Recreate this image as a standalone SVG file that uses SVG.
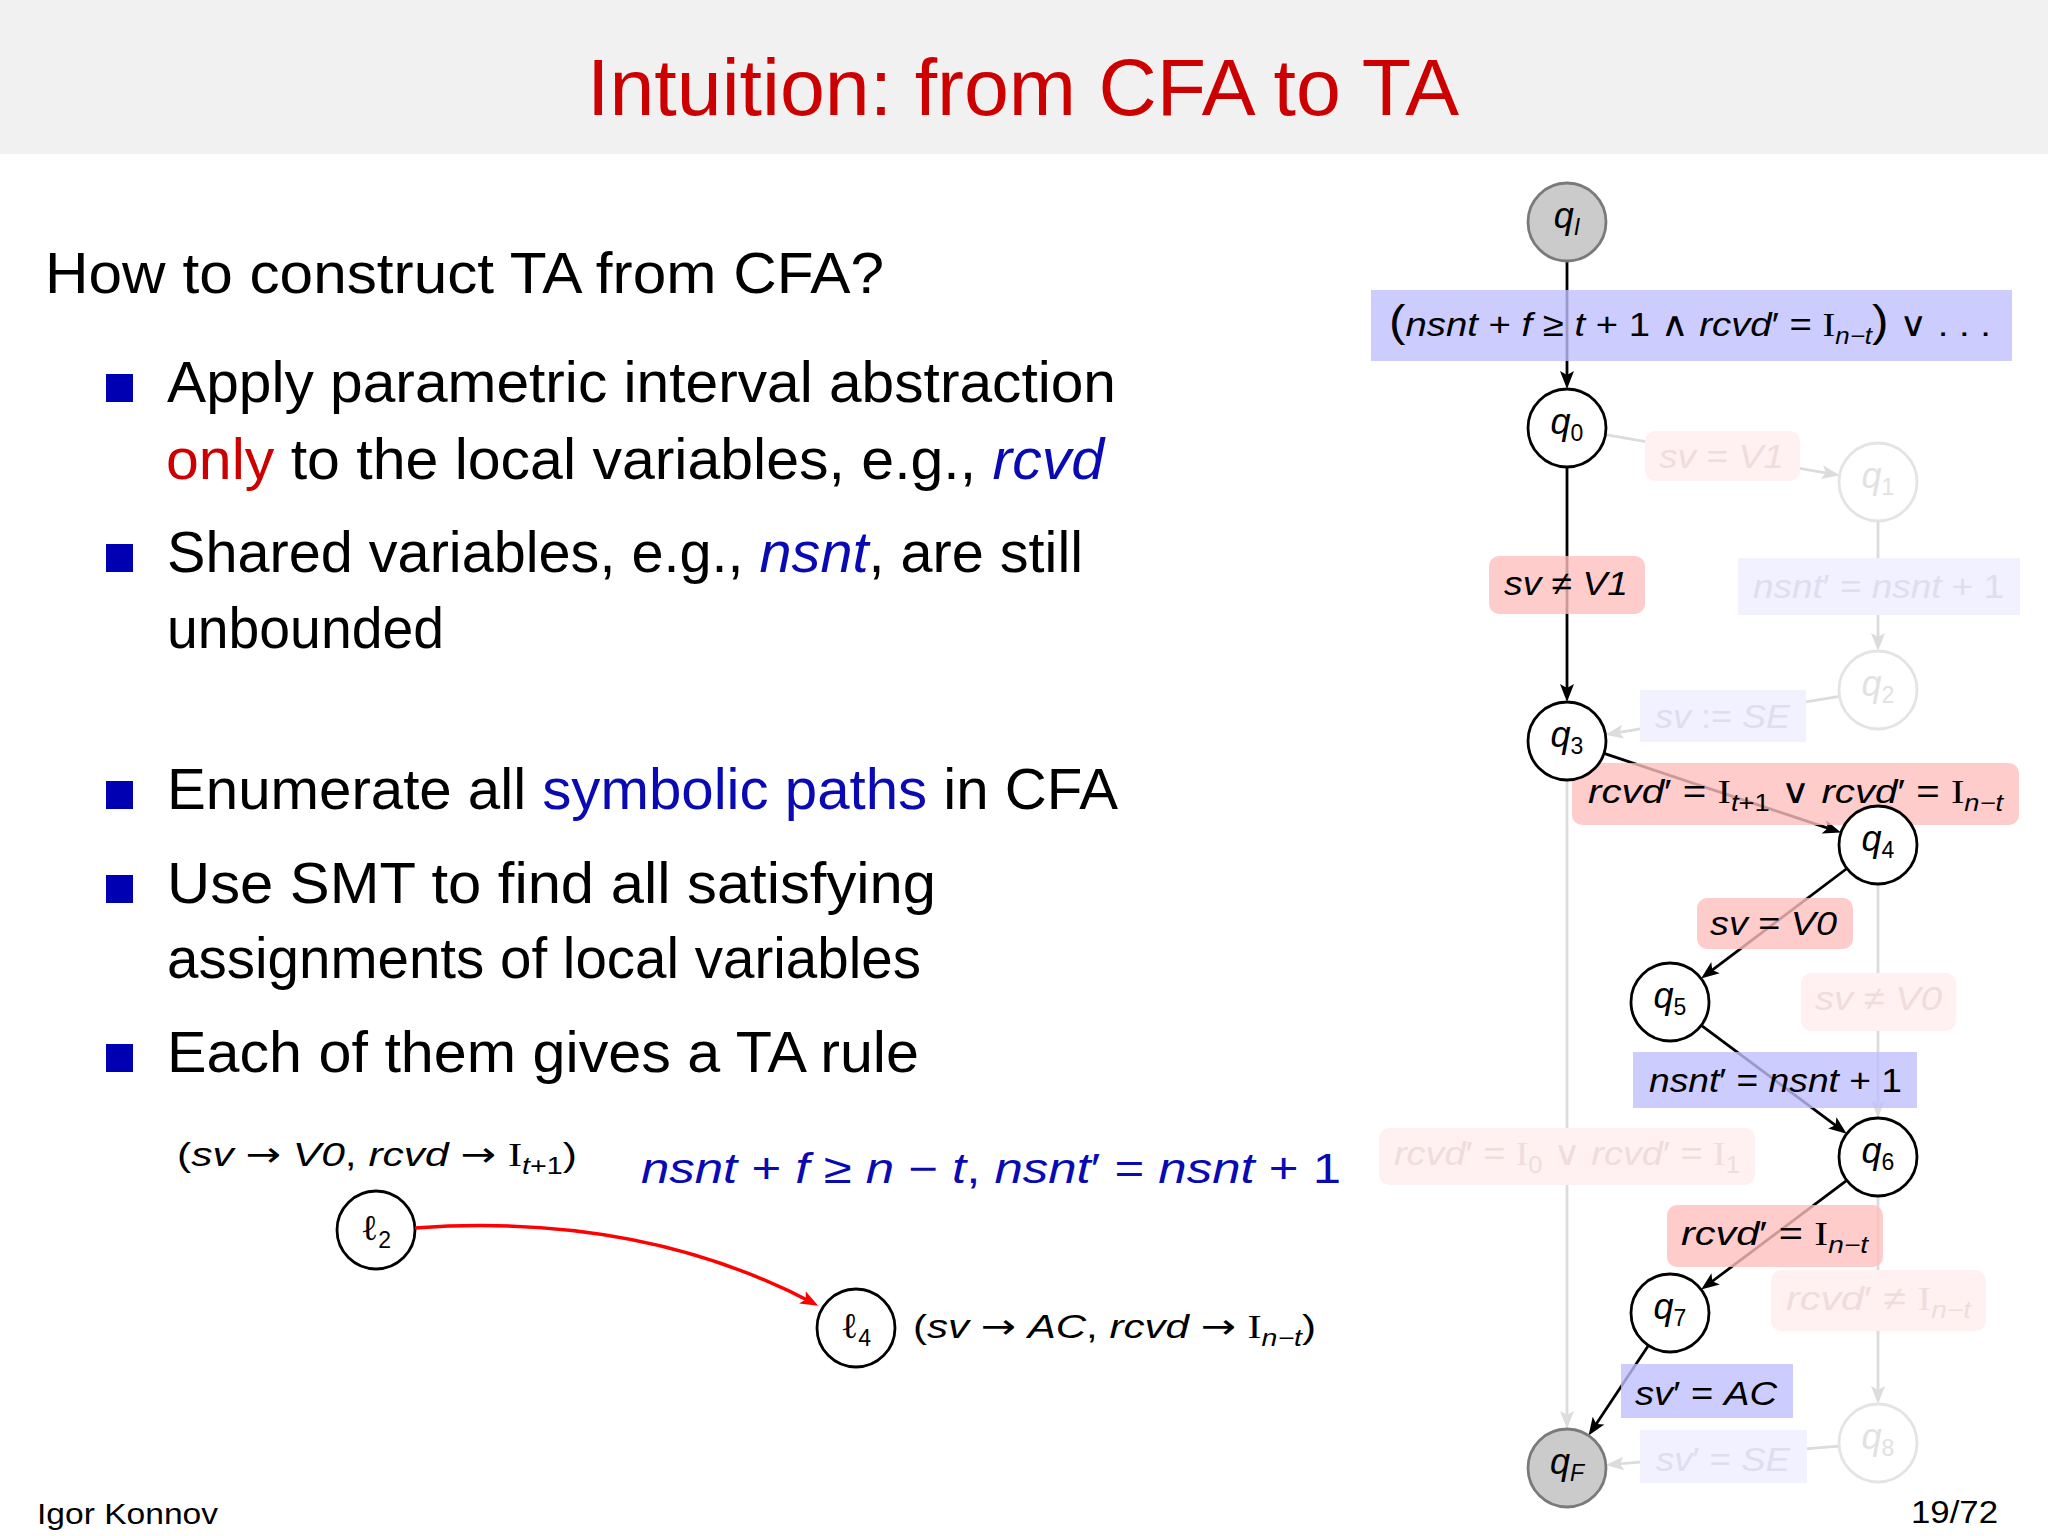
<svg xmlns="http://www.w3.org/2000/svg" width="2048" height="1536" viewBox="0 0 2048 1536">
<defs>
<style>
text{font-family:"Liberation Sans","DejaVu Sans",sans-serif;}
.title{font-size:80px;fill:#cc0000}
.body{font-size:57px;fill:#000}
.blue{fill:#0a0ab4}
.red{fill:#cc0000}
.i{font-style:italic}
.r{font-family:"Liberation Serif","DejaVu Serif",serif;font-style:normal}
.ar{font-family:"DejaVu Sans",sans-serif;font-style:normal}
.m{font-size:34px;fill:#000}
.nl{font-size:36px;fill:#000}
.sub{font-size:23px}
.edge{stroke:#000;stroke-width:2.8;fill:none;marker-end:url(#ah)}
.fedge{stroke:#dcdcdc;stroke-width:2.8;fill:none;marker-end:url(#fah)}
.node{fill:#fff;stroke:#000;stroke-width:2.8}
.gnode{fill:#cbcbcb;stroke:#7a7a7a;stroke-width:2.8}
.fnode{fill:#fff;stroke:#e4e4e4;stroke-width:2.8}
.rbox{fill:#ffbfbf;fill-opacity:0.8}
.bbox{fill:#bfbfff;fill-opacity:0.8}
.frbox{fill:#fff1f1}
.fbbox{fill:#f1f1ff}
.frt{fill:#efdcdc}
.fbt{fill:#dedeef}
.fnt{fill:#e2e2e2}
.bul{fill:#0000b3}
</style>
<marker id="ah" markerUnits="userSpaceOnUse" markerWidth="20" markerHeight="16" viewBox="0 0 20 16" refX="12" refY="8" orient="auto"><path d="M0,1 L18,8 L0,15 L4,8 z" fill="#000"/></marker>
<marker id="fah" markerUnits="userSpaceOnUse" markerWidth="20" markerHeight="16" viewBox="0 0 20 16" refX="12" refY="8" orient="auto"><path d="M0,1 L18,8 L0,15 L4,8 z" fill="#dcdcdc"/></marker>
<marker id="rah" markerUnits="userSpaceOnUse" markerWidth="20" markerHeight="16" viewBox="0 0 20 16" refX="12" refY="8" orient="auto"><path d="M0,1 L18,8 L0,15 L4,8 z" fill="#ff0000"/></marker>
</defs>

<rect x="0" y="0" width="2048" height="1536" fill="#fff"/>
<g id="header">
<rect x="0" y="0" width="2048" height="154" fill="#f1f1f1"/>
<text class="title" x="1023" y="115" text-anchor="middle" textLength="872" lengthAdjust="spacingAndGlyphs">Intuition:  from CFA to TA</text>
</g>

<g id="body">
<text class="body" x="45" y="293" textLength="839" lengthAdjust="spacingAndGlyphs">How to construct TA from CFA?</text>
<rect class="bul" x="106" y="374" width="27" height="28"/>
<text class="body" x="167" y="402" textLength="949" lengthAdjust="spacingAndGlyphs">Apply parametric interval abstraction</text>
<text class="body" x="166" y="479" textLength="938" lengthAdjust="spacingAndGlyphs"><tspan class="red">only</tspan> to the local variables, e.g., <tspan class="blue i">rcvd</tspan></text>
<rect class="bul" x="106" y="544" width="27" height="28"/>
<text class="body" x="167" y="572" textLength="916" lengthAdjust="spacingAndGlyphs">Shared variables, e.g., <tspan class="blue i">nsnt</tspan>, are still</text>
<text class="body" x="167" y="648" textLength="277" lengthAdjust="spacingAndGlyphs">unbounded</text>
<rect class="bul" x="106" y="781" width="27" height="28"/>
<text class="body" x="167" y="809" textLength="951" lengthAdjust="spacingAndGlyphs">Enumerate all <tspan class="blue">symbolic paths</tspan> in CFA</text>
<rect class="bul" x="106" y="875" width="27" height="28"/>
<text class="body" x="167" y="903" textLength="769" lengthAdjust="spacingAndGlyphs">Use SMT to find all satisfying</text>
<text class="body" x="167" y="978" textLength="754" lengthAdjust="spacingAndGlyphs">assignments of local variables</text>
<rect class="bul" x="106" y="1044" width="27" height="28"/>
<text class="body" x="167" y="1072" textLength="752" lengthAdjust="spacingAndGlyphs">Each of them gives a TA rule</text>
</g>

<g id="rule-example">
<text class="m" x="177" y="1166" textLength="400" lengthAdjust="spacingAndGlyphs">(<tspan class="i">sv</tspan> <tspan class="ar">→</tspan> <tspan class="i">V0</tspan>, <tspan class="i">rcvd</tspan> <tspan class="ar">→</tspan> <tspan class="r">I</tspan><tspan class="sub" dy="8"><tspan class="i">t</tspan>+1</tspan><tspan dy="-8">)</tspan></text>
<text class="blue" style="font-size:42px" x="641" y="1183" textLength="700" lengthAdjust="spacingAndGlyphs"><tspan class="i">nsnt</tspan> + <tspan class="i">f</tspan> ≥ <tspan class="i">n</tspan> − <tspan class="i">t</tspan>, <tspan class="i">nsnt</tspan>′ = <tspan class="i">nsnt</tspan> + 1</text>
<g id="l2"><circle class="node" cx="376" cy="1230" r="39"/><text class="nl" x="376" y="1240" text-anchor="middle"><tspan class="r i">ℓ</tspan><tspan class="sub" dy="8">2</tspan></text></g>
<g id="l4"><circle class="node" cx="856" cy="1328" r="39"/><text class="nl" x="856" y="1338" text-anchor="middle"><tspan class="r i">ℓ</tspan><tspan class="sub" dy="8">4</tspan></text></g>
<text class="m" x="913" y="1338" textLength="403" lengthAdjust="spacingAndGlyphs">(<tspan class="i">sv</tspan> <tspan class="ar">→</tspan> <tspan class="i">AC</tspan>, <tspan class="i">rcvd</tspan> <tspan class="ar">→</tspan> <tspan class="r">I</tspan><tspan class="sub i" dy="8">n−t</tspan><tspan dy="-8">)</tspan></text>
<g id="rule-edge"><path d="M415,1228 Q640,1212 813,1303" fill="none" stroke="#ff0000" stroke-width="3.5" marker-end="url(#rah)"/></g>
</g>

<g id="connectors">
<line class="fedge" x1="1605.4" y1="434.7" x2="1833.7" y2="474.3"/>
<line class="fedge" x1="1878" y1="521" x2="1878" y2="645"/>
<line class="fedge" x1="1839.5" y1="696.3" x2="1611.4" y2="733.7"/>
<line class="fedge" x1="1567" y1="780" x2="1567" y2="1423"/>
<line class="fedge" x1="1878" y1="884" x2="1878" y2="1112"/>
<line class="fedge" x1="1878" y1="1196" x2="1878" y2="1398"/>
<line class="fedge" x1="1839.1" y1="1446.1" x2="1611.9" y2="1464.4"/>
<line class="edge" x1="1567" y1="261" x2="1567" y2="383"/>
<line class="edge" x1="1567" y1="467" x2="1567" y2="696"/>
<line class="edge" x1="1604" y1="753.4" x2="1835.3" y2="830.7"/>
<line class="edge" x1="1846.9" y1="868.5" x2="1705.9" y2="974.9"/>
<line class="edge" x1="1701.3" y1="1025.3" x2="1841.9" y2="1130.1"/>
<line class="edge" x1="1846.8" y1="1180.4" x2="1706" y2="1286"/>
<line class="edge" x1="1648.4" y1="1345.4" x2="1591.9" y2="1430.6"/>
</g>

<g id="faded-labels">
<rect class="frbox" x="1645" y="431" width="155" height="50" rx="10"/>
<text class="m frt" x="1659" y="468" textLength="125" lengthAdjust="spacingAndGlyphs"><tspan class="i">sv</tspan> = <tspan class="i">V1</tspan></text>
<rect class="fbbox" x="1738" y="558" width="282" height="57"/>
<text class="m fbt" x="1753" y="598" textLength="251" lengthAdjust="spacingAndGlyphs"><tspan class="i">nsnt</tspan>′ = <tspan class="i">nsnt</tspan> + 1</text>
<rect class="fbbox" x="1640" y="690" width="166" height="52"/>
<text class="m fbt" x="1655" y="728" textLength="135" lengthAdjust="spacingAndGlyphs"><tspan class="i">sv</tspan> := <tspan class="i">SE</tspan></text>
<rect class="frbox" x="1801" y="973" width="155" height="58" rx="10"/>
<text class="m frt" x="1815" y="1010" textLength="127" lengthAdjust="spacingAndGlyphs"><tspan class="i">sv</tspan> ≠ <tspan class="i">V0</tspan></text>
<rect class="frbox" x="1379" y="1128" width="376" height="57" rx="10"/>
<text class="m frt" x="1394" y="1165" textLength="346" lengthAdjust="spacingAndGlyphs"><tspan class="i">rcvd</tspan>′ = <tspan class="r">I</tspan><tspan class="sub" dy="8">0</tspan><tspan dy="-8"> ∨ </tspan><tspan class="i">rcvd</tspan>′ = <tspan class="r">I</tspan><tspan class="sub" dy="8">1</tspan></text>
<rect class="frbox" x="1771" y="1270" width="215" height="61" rx="10"/>
<text class="m frt" x="1786" y="1310" textLength="185" lengthAdjust="spacingAndGlyphs"><tspan class="i">rcvd</tspan>′ ≠ <tspan class="r">I</tspan><tspan class="sub i" dy="8">n−t</tspan></text>
<rect class="fbbox" x="1640" y="1430" width="167" height="53"/>
<text class="m fbt" x="1656" y="1471" textLength="134" lengthAdjust="spacingAndGlyphs"><tspan class="i">sv</tspan>′ = <tspan class="i">SE</tspan></text>
</g>

<g id="active-labels">
<rect class="bbox" x="1371" y="290" width="641" height="71"/>
<text class="m" x="1389" y="336" textLength="602" lengthAdjust="spacingAndGlyphs"><tspan style="font-size:44px">(</tspan><tspan class="i">nsnt</tspan> + <tspan class="i">f</tspan> ≥ <tspan class="i">t</tspan> + 1 ∧ <tspan class="i">rcvd</tspan>′ = <tspan class="r">I</tspan><tspan class="sub i" dy="8">n−t</tspan><tspan dy="-8" style="font-size:44px">)</tspan> ∨ . . .</text>
<rect class="rbox" x="1489" y="556" width="156" height="58" rx="10"/>
<text class="m" x="1504" y="595" textLength="124" lengthAdjust="spacingAndGlyphs"><tspan class="i">sv</tspan> ≠ <tspan class="i">V1</tspan></text>
<rect class="rbox" x="1572" y="763" width="447" height="62" rx="10"/>
<text class="m" x="1588" y="803" textLength="415" lengthAdjust="spacingAndGlyphs"><tspan class="i">rcvd</tspan>′ = <tspan class="r">I</tspan><tspan class="sub" dy="8"><tspan class="i">t</tspan>+1</tspan><tspan dy="-8"> ∨ </tspan><tspan class="i">rcvd</tspan>′ = <tspan class="r">I</tspan><tspan class="sub i" dy="8">n−t</tspan></text>
<rect class="rbox" x="1697" y="898" width="156" height="51" rx="10"/>
<text class="m" x="1710" y="935" textLength="127" lengthAdjust="spacingAndGlyphs"><tspan class="i">sv</tspan> = <tspan class="i">V0</tspan></text>
<rect class="bbox" x="1633" y="1052" width="284" height="56"/>
<text class="m" x="1649" y="1092" textLength="253" lengthAdjust="spacingAndGlyphs"><tspan class="i">nsnt</tspan>′ = <tspan class="i">nsnt</tspan> + 1</text>
<rect class="rbox" x="1667" y="1205" width="216" height="62" rx="10"/>
<text class="m" x="1681" y="1245" textLength="187" lengthAdjust="spacingAndGlyphs"><tspan class="i">rcvd</tspan>′ = <tspan class="r">I</tspan><tspan class="sub i" dy="8">n−t</tspan></text>
<rect class="bbox" x="1621" y="1364" width="172" height="54"/>
<text class="m" x="1635" y="1405" textLength="142" lengthAdjust="spacingAndGlyphs"><tspan class="i">sv</tspan>′ = <tspan class="i">AC</tspan></text>
</g>

<g id="qI"><circle class="gnode" cx="1567" cy="222" r="39"/><text class="nl" x="1567" y="228" text-anchor="middle"><tspan class="i">q</tspan><tspan class="sub i" dy="7">I</tspan></text></g>
<g id="q0"><circle class="node" cx="1567" cy="428" r="39"/><text class="nl" x="1567" y="434" text-anchor="middle"><tspan class="i">q</tspan><tspan class="sub" dy="7">0</tspan></text></g>
<g id="q1"><circle class="fnode" cx="1878" cy="482" r="39"/><text class="nl fnt" x="1878" y="488" text-anchor="middle"><tspan class="i">q</tspan><tspan class="sub" dy="7">1</tspan></text></g>
<g id="q2"><circle class="fnode" cx="1878" cy="690" r="39"/><text class="nl fnt" x="1878" y="696" text-anchor="middle"><tspan class="i">q</tspan><tspan class="sub" dy="7">2</tspan></text></g>
<g id="q3"><circle class="node" cx="1567" cy="741" r="39"/><text class="nl" x="1567" y="747" text-anchor="middle"><tspan class="i">q</tspan><tspan class="sub" dy="7">3</tspan></text></g>
<g id="q4"><circle class="node" cx="1878" cy="845" r="39"/><text class="nl" x="1878" y="851" text-anchor="middle"><tspan class="i">q</tspan><tspan class="sub" dy="7">4</tspan></text></g>
<g id="q5"><circle class="node" cx="1670" cy="1002" r="39"/><text class="nl" x="1670" y="1008" text-anchor="middle"><tspan class="i">q</tspan><tspan class="sub" dy="7">5</tspan></text></g>
<g id="q6"><circle class="node" cx="1878" cy="1157" r="39"/><text class="nl" x="1878" y="1163" text-anchor="middle"><tspan class="i">q</tspan><tspan class="sub" dy="7">6</tspan></text></g>
<g id="q7"><circle class="node" cx="1670" cy="1313" r="39"/><text class="nl" x="1670" y="1319" text-anchor="middle"><tspan class="i">q</tspan><tspan class="sub" dy="7">7</tspan></text></g>
<g id="q8"><circle class="fnode" cx="1878" cy="1443" r="39"/><text class="nl fnt" x="1878" y="1449" text-anchor="middle"><tspan class="i">q</tspan><tspan class="sub" dy="7">8</tspan></text></g>
<g id="qF"><circle class="gnode" cx="1567" cy="1468" r="39"/><text class="nl" x="1567" y="1474" text-anchor="middle"><tspan class="i">q</tspan><tspan class="sub i" dy="7">F</tspan></text></g>

<g id="footer">
<text x="37" y="1524" style="font-size:30px" textLength="181" lengthAdjust="spacingAndGlyphs">Igor Konnov</text>
<text x="1998" y="1523" style="font-size:32px" text-anchor="end" textLength="87" lengthAdjust="spacingAndGlyphs">19/72</text>
</g>
</svg>
